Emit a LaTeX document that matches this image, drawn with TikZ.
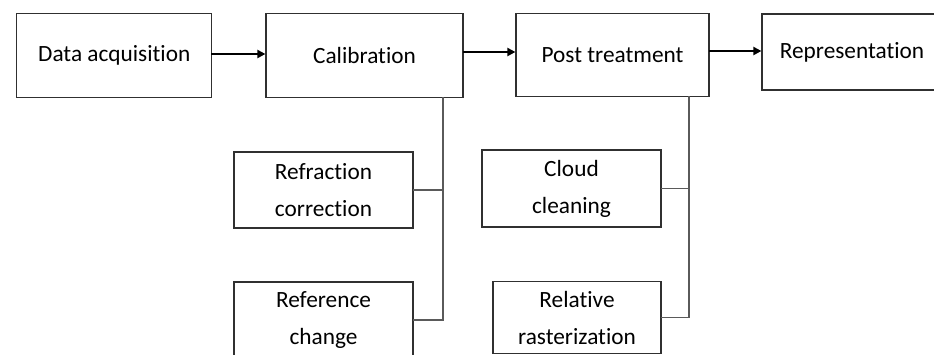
\documentclass[tikz,border=0pt]{standalone}
\usepackage{fontspec}
\setmainfont{Carlito}[RawFeature={-liga;-dlig}]
\usetikzlibrary{arrows.meta,positioning}
\definecolor{BoxLine}{HTML}{303030}
\definecolor{TapLine}{HTML}{5A5A5A}
\tikzset{stagebox/.style={draw=BoxLine,line width=1.2pt,inner sep=0pt,align=center,font={\fontsize{23.3}{37}\selectfont}},
  flow/.style={line width=2pt,-{Triangle[length=8pt,width=8pt]}},
  tap/.style={draw=TapLine,line width=1.4pt}}

\begin{document}
\begin{tikzpicture}[x=1pt,y=-1pt,line cap=rect]
  \useasboundingbox (0,0) rectangle (934,354); \clip (0,0) rectangle (934,354);
  % main chain
  \node[stagebox,minimum width=195pt,minimum height=84pt] (acq) at (114.3,55.5) {Data acquisition};
  \node[stagebox,minimum width=197pt,minimum height=84pt] (cal) at (364.5,55.5) {Calibration};
  \node[stagebox,minimum width=193pt,minimum height=83pt] (post) at (612.5,55) {Post treatment};
  \node[stagebox,minimum width=180pt,minimum height=76pt] (rep) at (852,52) {Representation};
  \draw[flow] (acq.east |- 0,54) -- (cal.west |- 0,54); \draw[flow] (cal.east |- 0,52) -- (post.west |- 0,52);
  \draw[flow] (post.east |- 0,51) -- (rep.west |- 0,51);
  % sub steps
  \node[stagebox,minimum width=179pt,minimum height=76pt] (refr) at (323.5,190) {Refraction\\correction};
  \node[stagebox,minimum width=179pt,minimum height=76pt] (refc) at (323.5,320) {Reference\\change};
  \node[stagebox,minimum width=179pt,minimum height=77pt] (clean) at (571.5,188.5) {Cloud\\cleaning};
  \node[stagebox,minimum width=168pt,minimum height=72pt] (rast) at (577,317.5) {Relative\\rasterization};
  \coordinate (calTap) at (cal.south -| 443,0); \coordinate (postTap) at (post.south -| 689,0);
  \draw[tap] (calTap) |- (refr.east); \draw[tap] (calTap) |- (refc.east);
  \draw[tap] (postTap) |- (clean.east); \draw[tap] (postTap) |- (rast.east);
\end{tikzpicture}
\end{document}
